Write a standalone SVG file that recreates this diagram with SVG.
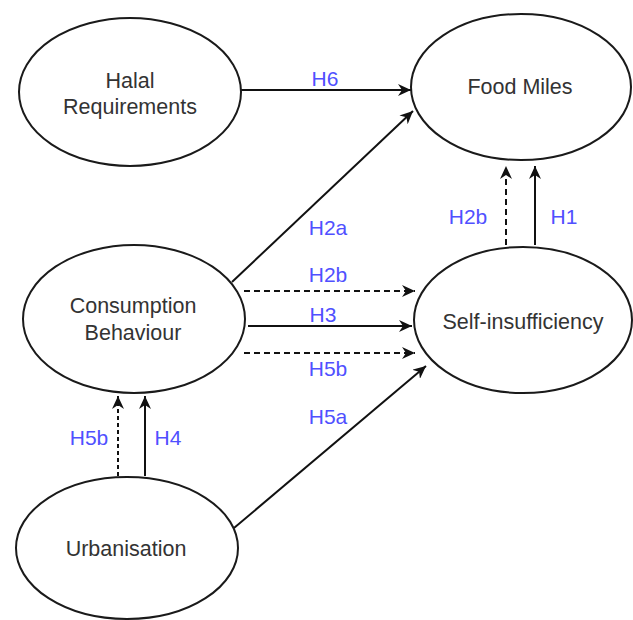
<svg xmlns="http://www.w3.org/2000/svg" width="633" height="620" viewBox="0 0 633 620">
<style>
.node ellipse{fill:#fff;stroke:#1a1a1a;stroke-width:2}
.node text{font-family:"Liberation Sans",Arial,sans-serif;font-size:21.5px;fill:#333;text-anchor:middle}
.edge{stroke:#111;stroke-width:2;fill:none;marker-end:url(#arr)}
.dash{stroke-dasharray:6 4}
.lbl{font-family:"Liberation Sans",Arial,sans-serif;font-size:21px;fill:#5050ff;text-anchor:middle}
</style>
<defs>
<marker id="arr" markerUnits="userSpaceOnUse" markerWidth="14" markerHeight="12" viewBox="0 0 14 12" refX="13" refY="6" orient="auto">
<path d="M0,0 L13,6 L0,12 L4,6 Z" fill="#111"/>
</marker>
</defs>
<rect width="633" height="620" fill="#fff"/>
<g id="connectors">
<line class="edge" x1="241" y1="90" x2="411" y2="90"/>
<line class="edge" x1="232" y1="282" x2="413" y2="111"/>
<line class="edge dash" x1="244" y1="291" x2="415" y2="291"/>
<line class="edge" x1="248" y1="326" x2="412" y2="326"/>
<line class="edge dash" x1="244" y1="353" x2="415" y2="353"/>
<line class="edge" x1="234" y1="528" x2="426" y2="366"/>
<line class="edge dash" x1="506" y1="245" x2="506" y2="166"/>
<line class="edge" x1="535" y1="245" x2="535" y2="166"/>
<line class="edge dash" x1="118" y1="476" x2="118" y2="396" style="stroke-dasharray:4 3"/>
<line class="edge" x1="145" y1="476" x2="145" y2="396"/>
<text class="lbl" x="325" y="86">H6</text>
<text class="lbl" x="328" y="235">H2a</text>
<text class="lbl" x="328" y="282">H2b</text>
<text class="lbl" x="323" y="322">H3</text>
<text class="lbl" x="328" y="376">H5b</text>
<text class="lbl" x="328" y="424">H5a</text>
<text class="lbl" x="468" y="224">H2b</text>
<text class="lbl" x="564" y="224">H1</text>
<text class="lbl" x="89" y="445">H5b</text>
<text class="lbl" x="168" y="445">H4</text>
</g>
<g id="halal" class="node">
<ellipse cx="130" cy="92" rx="111" ry="74"/>
<text x="130" y="88">Halal</text>
<text x="130" y="114">Requirements</text>
</g>
<g id="foodmiles" class="node">
<ellipse cx="521" cy="87" rx="110" ry="73"/>
<text x="520" y="94">Food Miles</text>
</g>
<g id="consumption" class="node">
<ellipse cx="134" cy="319" rx="111" ry="74"/>
<text x="133" y="313">Consumption</text>
<text x="133" y="340">Behaviour</text>
</g>
<g id="selfinsufficiency" class="node">
<ellipse cx="523" cy="320" rx="109" ry="73"/>
<text x="523" y="329">Self-insufficiency</text>
</g>
<g id="urbanisation" class="node">
<ellipse cx="127" cy="548" rx="111" ry="71"/>
<text x="126" y="556">Urbanisation</text>
</g>
</svg>
